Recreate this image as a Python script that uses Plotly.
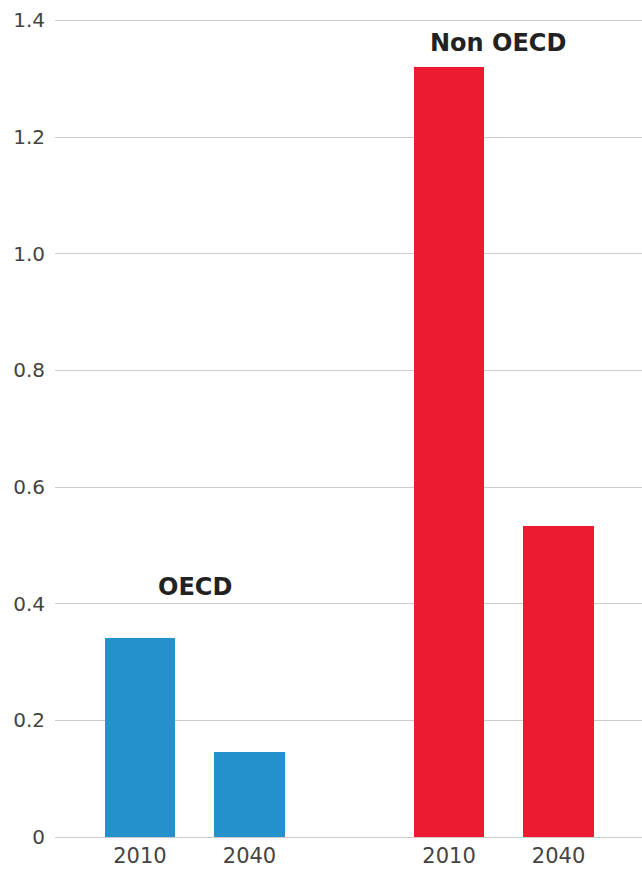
import plotly.graph_objects as go

# ---- data ----
groups = ["OECD", "Non OECD"]
years = ["2010", "2040"]
oecd_values = [0.341, 0.146]
non_oecd_values = [1.320, 0.534]
colors = ["#2491CB", "#EC1B31"]
y_ticks = [0, 0.2, 0.4, 0.6, 0.8, 1.0, 1.2, 1.4]
y_tick_labels = ["0", "0.2", "0.4", "0.6", "0.8", "1.0", "1.2", "1.4"]

# ---- layout constants ----
group_offset = [0.0, 2.822]
bar_spacing = 1.0
bar_width = 0.645
FONT = "DejaVu Sans, Liberation Sans, Arial, sans-serif"

series = [oecd_values, non_oecd_values]
fig = go.Figure()
tickvals, ticktext = [], []
for gi, (g, vals) in enumerate(zip(groups, series)):
    xs = [group_offset[gi] + i * bar_spacing for i in range(len(years))]
    fig.add_trace(go.Bar(
        x=xs, y=vals, width=bar_width, marker=dict(color=colors[gi], line=dict(width=0)),
        name=g, showlegend=False, hoverinfo="y",
    ))
    tickvals += xs
    ticktext += years

ann_y = [0.428, 1.362]
ann_shift = [0, -6]
for gi, g in enumerate(groups):
    cx = group_offset[gi] + bar_spacing * (len(years) - 1) / 2
    fig.add_annotation(x=cx, y=ann_y[gi], text="<b>%s</b>" % g, showarrow=False,
                       xshift=ann_shift[gi],
                       font=dict(family=FONT, size=24, color="#222222"))

fig.update_layout(
    width=642, height=869,
    margin=dict(l=55, r=0, t=19, b=32),
    paper_bgcolor="white", plot_bgcolor="white",
    bargap=0,
    font=dict(family=FONT, color="#444444"),
    xaxis=dict(range=[-0.776, 4.584], tickvals=tickvals, ticktext=ticktext,
               showgrid=False, zeroline=False, showline=False, ticks="",
               ticklabelstandoff=4,
               tickfont=dict(size=21, color="#444444"), fixedrange=True),
    yaxis=dict(range=[0, 1.4025], tickvals=y_ticks, ticktext=y_tick_labels,
               showgrid=True, gridcolor="#CCCCCC", gridwidth=1,
               zeroline=True, zerolinecolor="#CCCCCC", zerolinewidth=1,
               showline=False, ticks="", ticklabelstandoff=9,
               tickfont=dict(size=20, color="#444444"), fixedrange=True),
)

fig.write_html("out.html")
